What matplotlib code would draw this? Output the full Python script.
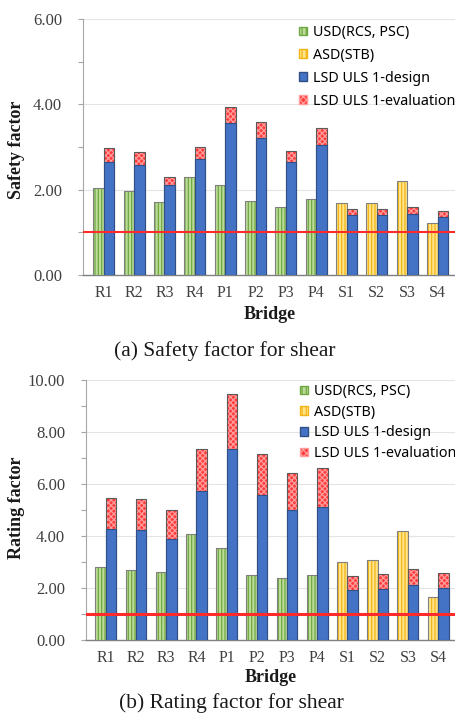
import matplotlib
matplotlib.use("Agg")
import matplotlib.pyplot as plt
from matplotlib.patches import Patch
from matplotlib.ticker import MultipleLocator, FormatStrFormatter
import numpy as np

# ---------------- data ----------------
bridges = ["R1", "R2", "R3", "R4", "P1", "P2", "P3", "P4", "S1", "S2", "S3", "S4"]
conv_method = ["USD"] * 8 + ["ASD"] * 4

sf_conventional = [2.05, 1.96, 1.72, 2.29, 2.10, 1.74, 1.59, 1.77, 1.69, 1.69, 2.20, 1.23]
sf_lsd_design = [2.64, 2.58, 2.10, 2.73, 3.56, 3.21, 2.64, 3.05, 1.40, 1.40, 1.44, 1.37]
sf_lsd_evaluation = [2.97, 2.88, 2.29, 2.99, 3.93, 3.59, 2.90, 3.44, 1.54, 1.54, 1.59, 1.51]

rf_conventional = [2.79, 2.68, 2.63, 4.06, 3.53, 2.49, 2.37, 2.49, 2.99, 3.06, 4.18, 1.67]
rf_lsd_design = [4.26, 4.22, 3.87, 5.72, 7.35, 5.56, 5.00, 5.10, 1.92, 1.96, 2.10, 1.99]
rf_lsd_evaluation = [5.47, 5.44, 5.00, 7.35, 9.45, 7.17, 6.44, 6.60, 2.47, 2.53, 2.72, 2.56]

legend_labels = ["USD(RCS, PSC)", "ASD(STB)", "LSD ULS 1-design", "LSD ULS 1-evaluation"]
limit_value = 1.0

# ---------------- style ----------------
W, H = 455, 722
SERIF = ["Liberation Serif", "DejaVu Serif"]
SANS = ["Noto Sans", "DejaVu Sans"]
plt.rcParams["hatch.linewidth"] = 0.9

GREEN_FACE, GREEN_HATCH = "#BCDC98", "#6FA843"
YEL_FACE, YEL_HATCH = "#FFE48C", "#F2B515"
BLUE, BLUE_EDGE = "#4472C4", "#2F4F85"
RED_FACE, RED_HATCH = "#FF3C3C", "#FF9C9C"

fig = plt.figure(figsize=(W / 100, H / 100), dpi=100)


def px_axes(l, t, r, b):
    return fig.add_axes([l / W, 1 - b / H, (r - l) / W, (b - t) / H])


def draw(ax, conv, design, evaluation, ymax, xlim, line_w, leg_anchor, leg_spacing):
    x = np.arange(len(bridges))
    w = 0.345
    faces = [GREEN_FACE if m == "USD" else YEL_FACE for m in conv_method]
    hatches = [GREEN_HATCH if m == "USD" else YEL_HATCH for m in conv_method]
    ax.bar(x - w / 2, conv, w, color=faces, edgecolor=hatches, hatch="|||||", lw=0, zorder=3)
    ax.bar(x - w / 2, conv, w, fill=False, edgecolor="#808080", lw=0.8, zorder=4)
    ax.bar(x + w / 2, evaluation, w, color=RED_FACE, edgecolor=RED_HATCH, hatch="xxxxxx", lw=0, zorder=3)
    ax.bar(x + w / 2, evaluation, w, fill=False, edgecolor="#5a5a5a", lw=0.8, zorder=4)
    ax.bar(x + w / 2, design, w, color=BLUE, edgecolor=BLUE_EDGE, lw=0.8, zorder=5)
    ax.axhline(limit_value, color="#FF2A2A", lw=line_w, zorder=6)

    ax.set_xlim(*xlim)
    ax.set_ylim(0, ymax)
    ax.set_xticks(x)
    ax.set_xticklabels(bridges, family=SERIF, fontsize=11.5, color="#404040")
    ax.yaxis.set_major_locator(MultipleLocator(2))
    ax.yaxis.set_minor_locator(MultipleLocator(1))
    ax.yaxis.set_major_formatter(FormatStrFormatter("%.2f"))
    for lab in ax.get_yticklabels():
        lab.set_family(SERIF)
    ax.tick_params(axis="y", which="both", direction="out", length=3.6, width=0.8,
                   color="#A6A6A6", labelsize=12, labelcolor="#404040", pad=11.5)
    ax.tick_params(axis="x", length=0, pad=7)
    ax.grid(axis="y", which="major", color="#E4E4E4", lw=0.8)
    ax.set_axisbelow(True)
    for s in ("top", "right"):
        ax.spines[s].set_visible(False)
    ax.spines["left"].set_color("#A6A6A6")
    ax.spines["bottom"].set_color("#808080")
    ax.spines["bottom"].set_linewidth(1.0)

    handles = [
        Patch(facecolor=GREEN_FACE, edgecolor=GREEN_HATCH, hatch="||||"),
        Patch(facecolor=YEL_FACE, edgecolor=YEL_HATCH, hatch="||||"),
        Patch(facecolor=BLUE, edgecolor=BLUE_EDGE),
        Patch(facecolor=RED_FACE, edgecolor=RED_HATCH, hatch="xxxxx"),
    ]
    ax.legend(handles, legend_labels, loc="upper left",
              bbox_to_anchor=(leg_anchor[0] / W, 1 - leg_anchor[1] / H),
              bbox_transform=fig.transFigure, frameon=False,
              prop={"family": SANS, "size": 10.3}, handlelength=0.55, handleheight=0.55,
              handletextpad=0.4, labelspacing=leg_spacing, borderpad=0, borderaxespad=0)


ax1 = px_axes(83, 19, 455, 275)
draw(ax1, sf_conventional, sf_lsd_design, sf_lsd_evaluation, 6, (-0.686, 11.575), 1.5,
     (299, 25), 0.55)
ax2 = px_axes(86, 380, 455, 640)
draw(ax2, rf_conventional, rf_lsd_design, rf_lsd_evaluation, 10, (-0.655, 11.56), 2.2,
     (300, 384), 0.40)

# axis titles and captions
fig.text(17 / W, 1 - 150 / H, "Safety factor", rotation=90, ha="center", va="center",
         family=SERIF, fontweight="bold", fontsize=13, color="#1a1a1a")
fig.text(17 / W, 1 - 508 / H, "Rating factor", rotation=90, ha="center", va="center",
         family=SERIF, fontweight="bold", fontsize=13, color="#1a1a1a")
fig.text(270 / W, 1 - 314 / H, "Bridge", ha="center", va="center",
         family=SERIF, fontweight="bold", fontsize=13, color="#1a1a1a")
fig.text(271 / W, 1 - 678 / H, "Bridge", ha="center", va="center",
         family=SERIF, fontweight="bold", fontsize=13, color="#1a1a1a")
fig.text(225 / W, 1 - 351 / H, "(a) Safety factor for shear", ha="center", va="center",
         family=SERIF, fontsize=15.5, color="#1a1a1a")
fig.text(231 / W, 1 - 703 / H, "(b) Rating factor for shear", ha="center", va="center",
         family=SERIF, fontsize=15.5, color="#1a1a1a")

fig.savefig("out.png", dpi=100)
